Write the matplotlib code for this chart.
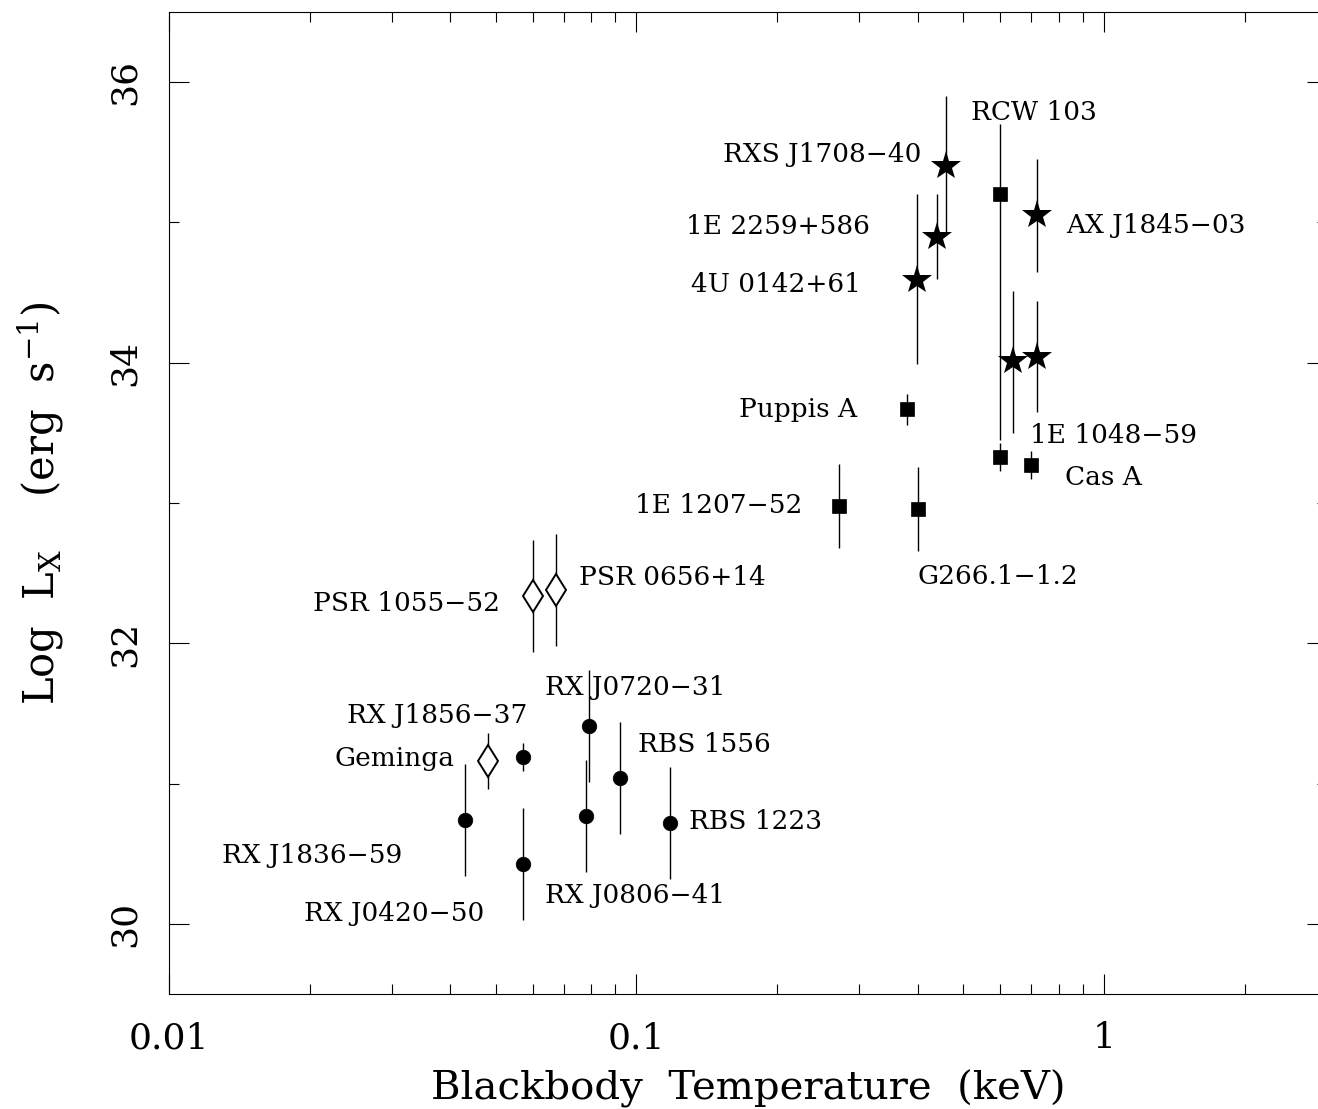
import matplotlib
matplotlib.use("Agg")
import matplotlib.pyplot as plt
from matplotlib.ticker import MultipleLocator, NullFormatter

plt.rcParams['font.family'] = 'DejaVu Serif'
plt.rcParams['mathtext.fontset'] = 'dejavuserif'

# AXPs (stars)
axp_names = ['RXS J1708−40', '1E 2259+586', '4U 0142+61', 'AX J1845−03', '1E 1048−59', '']
axp_kt = [0.459, 0.439, 0.399, 0.718, 0.638, 0.718]
axp_lx = [35.40, 34.90, 34.59, 35.05, 34.01, 34.04]
axp_err_lo = [0.47, 0.30, 0.60, 0.40, 0.51, 0.39]
axp_err_hi = [0.50, 0.30, 0.61, 0.40, 0.50, 0.40]

# compact sources in SNRs (filled squares)
snr_names = ['RCW 103', '', 'Puppis A', 'Cas A', '1E 1207−52', 'G266.1−1.2']
snr_kt = [0.599, 0.600, 0.379, 0.698, 0.271, 0.400]
snr_lx = [35.20, 33.33, 33.67, 33.27, 32.98, 32.96]
snr_err_lo = [1.75, 0.10, 0.11, 0.10, 0.30, 0.30]
snr_err_hi = [0.50, 0.10, 0.11, 0.10, 0.30, 0.30]

# radio pulsars (open diamonds)
psr_names = ['PSR 1055−52', 'PSR 0656+14', 'Geminga']
psr_kt = [0.0601, 0.0672, 0.0482]
psr_lx = [32.34, 32.38, 31.16]
psr_err = [0.40, 0.40, 0.20]

# isolated neutron stars (filled circles)
ins_names = ['RX J1856−37', 'RX J0720−31', 'RBS 1556', 'RX J1836−59',
             'RX J0420−50', 'RX J0806−41', 'RBS 1223']
ins_kt = [0.0572, 0.0791, 0.0921, 0.0431, 0.0572, 0.0781, 0.1178]
ins_lx = [31.19, 31.41, 31.04, 30.74, 30.43, 30.77, 30.72]
ins_err = [0.10, 0.40, 0.40, 0.40, 0.40, 0.40, 0.40]

# label placement: pixels right / down from the point, alignment
label_offsets = {
    'RXS J1708−40': (-24, -14, 'right'),
    '1E 2259+586': (-67, -12, 'right'),
    '4U 0142+61': (-56, 2, 'right'),
    'AX J1845−03': (29, 8, 'left'),
    '1E 1048−59': (17, 72, 'left'),
    'RCW 103': (-29, -84, 'left'),
    'Puppis A': (-50, -2, 'right'),
    'Cas A': (34, 10, 'left'),
    '1E 1207−52': (-36, -2, 'right'),
    'G266.1−1.2': (0, 66, 'left'),
    'PSR 1055−52': (-33, 6, 'right'),
    'PSR 0656+14': (23, -15, 'left'),
    'Geminga': (-34, -5, 'right'),
    'RX J1856−37': (4, -44, 'right'),
    'RX J0720−31': (-44, -41, 'left'),
    'RBS 1556': (18, -36, 'left'),
    'RX J1836−59': (-63, 33, 'right'),
    'RX J0420−50': (-39, 48, 'right'),
    'RX J0806−41': (-41, 77, 'left'),
    'RBS 1223': (19, -4, 'left'),
}

fig = plt.figure(figsize=(13.18, 11.09), dpi=100)
ax = fig.add_axes([0.1281, 0.1034, 0.8787, 0.8858])

ebar = dict(ecolor='k', elinewidth=1.0, capsize=0, linestyle='none')
ax.errorbar(axp_kt, axp_lx, yerr=[axp_err_lo, axp_err_hi], marker='*', ms=22,
            mfc='k', mec='k', mew=0, **ebar)
ax.errorbar(snr_kt, snr_lx, yerr=[snr_err_lo, snr_err_hi], marker='s', ms=9.5,
            mfc='k', mec='k', mew=0.5, **ebar)
ax.errorbar(psr_kt, psr_lx, yerr=psr_err, marker='d', ms=16.5,
            mfc='white', mec='k', mew=1.4, **ebar)
ax.plot(psr_kt, psr_lx, linestyle='none', marker='|', ms=2, color='k', mew=0.8)
ax.errorbar(ins_kt, ins_lx, yerr=ins_err, marker='o', ms=10.5,
            mfc='k', mec='k', mew=0.5, **ebar)

for names, xs, ys in [(axp_names, axp_kt, axp_lx), (snr_names, snr_kt, snr_lx),
                      (psr_names, psr_kt, psr_lx), (ins_names, ins_kt, ins_lx)]:
    for name, x, y in zip(names, xs, ys):
        if not name:
            continue
        dx, dy, ha = label_offsets[name]
        ax.annotate(name, (x, y), xytext=(dx, -dy - 2), textcoords='offset pixels',
                    ha=ha, va='center', fontsize=19)

ax.set_xscale('log')
ax.set_xlim(0.01, 3)
ax.set_ylim(29.5, 36.5)
ax.set_xticks([0.01, 0.1, 1])
ax.set_xticklabels(['0.01', '0.1', '1'])
ax.xaxis.set_minor_formatter(NullFormatter())
ax.yaxis.set_major_locator(MultipleLocator(2))
ax.yaxis.set_minor_locator(MultipleLocator(1))
ax.set_yticks([30, 32, 34, 36])
ax.set_yticklabels(['30', '32', '34', '36'])

ax.tick_params(which='both', direction='in', top=True, right=True, width=0.8)
ax.tick_params(which='major', length=14.4, labelsize=26)
ax.tick_params(which='minor', length=7.2)
ax.tick_params(axis='x', pad=19.5)
ax.tick_params(axis='y', pad=19.8)
plt.setp(ax.get_yticklabels(), rotation=90, va='center', ha='right')

for s in ax.spines.values():
    s.set_linewidth(0.8)

ax.set_xlabel('Blackbody  Temperature  (keV)', fontsize=29)
ax.xaxis.set_label_coords(0.5, -0.077)
ax.set_ylabel(r'Log  L$_{\rm X}$    (erg  s$^{-1}$)', fontsize=30)
ax.yaxis.set_label_coords(-0.089, 0.5)

fig.savefig('out.png', dpi=100)
